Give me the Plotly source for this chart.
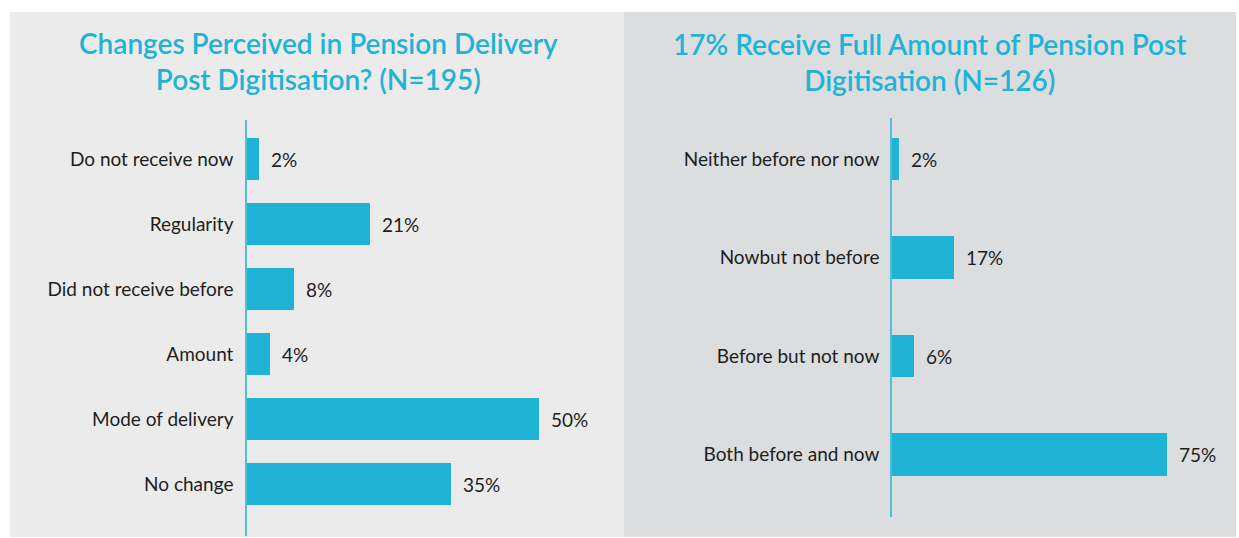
import plotly.graph_objects as go

W, H = 1239, 538

# ---- data ----
left_categories = ["Do not receive now", "Regularity", "Did not receive before",
                   "Amount", "Mode of delivery", "No change"]
left_values = [2, 21, 8, 4, 50, 35]
left_title = "Changes Perceived in Pension Delivery<br>Post Digitisation? (N=195)"

right_categories = ["Neither before nor now", "Nowbut not before",
                    "Before but not now", "Both before and now"]
right_values = [2, 17, 6, 75]
right_title = "17% Receive Full Amount of Pension Post<br>Digitisation (N=126)"

BAR = "#1fb3d6"
TXT = "#1e1e1e"
FONT = "Lato"
LBL = 19

def px_x(p):
    return p / W

def px_y(p):
    return 1 - p / H

fig = go.Figure()

fig.add_trace(go.Bar(x=left_values, y=left_categories, orientation="h",
                     marker=dict(color=BAR, line=dict(width=0)), width=0.65,
                     xaxis="x", yaxis="y", hoverinfo="skip"))
fig.add_trace(go.Bar(x=right_values, y=right_categories, orientation="h",
                     marker=dict(color=BAR, line=dict(width=0)), width=0.43,
                     xaxis="x2", yaxis="y2", hoverinfo="skip"))

annotations = []
for c, v in zip(left_categories, left_values):
    annotations.append(dict(x=v, y=c, xref="x", yref="y", text=f"{v}%",
                            showarrow=False, xanchor="left", xshift=10,
                            font=dict(family=FONT, size=LBL, color=TXT)))
for c, v in zip(right_categories, right_values):
    annotations.append(dict(x=v, y=c, xref="x2", yref="y2", text=f"{v}%",
                            showarrow=False, xanchor="left", xshift=10,
                            font=dict(family=FONT, size=LBL, color=TXT)))

annotations.append(dict(x=px_x(318), y=px_y(61), xref="paper", yref="paper",
                        text=left_title, showarrow=False, xanchor="center", yanchor="middle",
                        font=dict(family=FONT, size=28, color=BAR, weight=600)))
annotations.append(dict(x=px_x(930), y=px_y(62), xref="paper", yref="paper",
                        text=right_title, showarrow=False, xanchor="center", yanchor="middle",
                        font=dict(family=FONT, size=28, color=BAR, weight=600)))

shapes = [
    dict(type="rect", xref="paper", yref="paper", x0=px_x(10), x1=px_x(624),
         y0=px_y(537), y1=px_y(12), fillcolor="#ebebeb", line=dict(width=0), layer="below"),
    dict(type="rect", xref="paper", yref="paper", x0=px_x(624), x1=px_x(1236),
         y0=px_y(537), y1=px_y(12), fillcolor="#dcdddf", line=dict(width=0), layer="below"),
]

# left axis: 5.84 px per % ; rows 65 px apart, first center 158
lx0, lx1 = 247, 620
ly_top, ly_bot = 120, 536
l_step, l_c0 = 65, 159
# right axis: 3.67 px per % ; rows 98.5 px apart, first center 159
rx0, rx1 = 892, 1225
ry_top, ry_bot = 118, 517
r_step, r_c0 = 98.5, 159

axis_common = dict(showgrid=False, zeroline=False, showticklabels=False, ticks="")
fig.update_layout(
    width=W, height=H,
    margin=dict(l=0, r=0, t=0, b=0),
    paper_bgcolor="white", plot_bgcolor="rgba(0,0,0,0)",
    showlegend=False, bargap=0,
    xaxis=dict(domain=[px_x(lx0), px_x(lx1)], range=[0, (lx1 - lx0) / 5.84],
               **axis_common),
    yaxis=dict(domain=[px_y(ly_bot), px_y(ly_top)],
               range=[(ly_bot - l_c0) / l_step, (ly_top - l_c0) / l_step],
               showgrid=False, zeroline=False, showline=True, linecolor="#4dbfdd",
               linewidth=1.5, ticks="", ticklabelstandoff=8,
               tickfont=dict(family=FONT, size=LBL, color=TXT), anchor="x"),
    xaxis2=dict(domain=[px_x(rx0), px_x(rx1)], range=[0, (rx1 - rx0) / 3.67],
                anchor="y2", **axis_common),
    yaxis2=dict(domain=[px_y(ry_bot), px_y(ry_top)],
                range=[(ry_bot - r_c0) / r_step, (ry_top - r_c0) / r_step],
                showgrid=False, zeroline=False, showline=True, linecolor="#4dbfdd",
                linewidth=1.5, ticks="", ticklabelstandoff=7,
                tickfont=dict(family=FONT, size=LBL, color=TXT), anchor="x2"),
    annotations=annotations,
    shapes=shapes,
)

fig.write_html(
    "out.html",
    config={"displayModeBar": False},
    post_script="document.body.style.margin='0';document.body.style.overflow='hidden';",
)
